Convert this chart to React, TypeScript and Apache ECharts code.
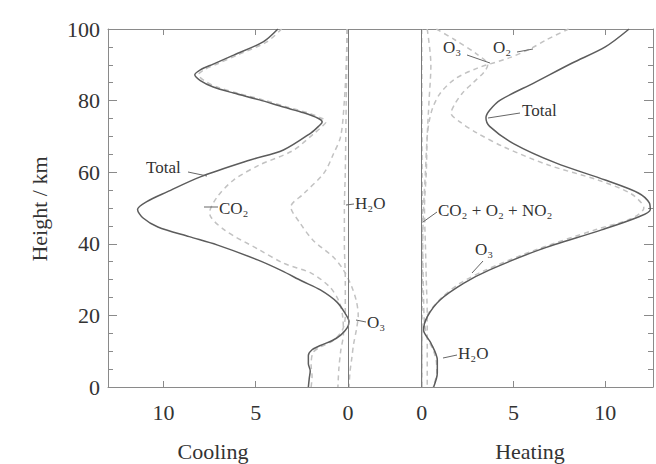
import React, { useEffect, useRef } from "react";
import * as echarts from "echarts";

// ---- Data: [rate (K/day), height (km)] ----
const coolTotal: number[][] = [
  [3.8, 100], [4.6, 96.4], [6.2, 92.7], [7.3, 90.2], [8.0, 88.6], [8.3, 87.2], [8.0, 85.6],
  [7.3, 83.8], [6.2, 82.1], [4.8, 80.2], [3.5, 78.2], [2.4, 76.6], [1.6, 75], [1.4, 74],
  [1.6, 72.8], [2.0, 71], [3.5, 66.2], [5.3, 63.4], [8.0, 58.7], [9.8, 54.5], [10.9, 51.8],
  [11.4, 49.6], [11.1, 47.2], [10.3, 44.7], [8.6, 42], [7.1, 39.7], [4.9, 35.5], [3.6, 32.5],
  [2.5, 29.6], [1.5, 27.1], [0.6, 23.7], [0.15, 20.5], [-0.05, 18.3], [0.05, 16.5], [0.4, 14.5],
  [0.85, 13], [1.5, 11.6], [1.95, 10.4], [2.15, 8.8], [2.15, 6.5], [2.05, 4.5], [2.1, 2.5],
  [2.15, 0],
];
const coolCO2: number[][] = [
  [3.6, 100], [4.4, 96.4], [6.0, 92.7], [7.1, 90.2], [7.8, 88.6], [8.1, 87.2], [7.8, 85.6],
  [7.1, 83.8], [6.0, 82.1], [4.6, 80.2], [3.3, 78.2], [2.2, 76.6], [1.4, 75], [1.2, 74],
  [1.4, 72.8], [1.8, 71], [3.0, 66], [4.8, 62], [6.2, 57.8], [7.1, 53], [7.5, 48.6], [6.7, 43.9],
  [4.8, 38.3], [3.5, 34.6], [2.0, 31.8], [1.0, 28], [0.5, 24], [0.3, 20], [0.25, 15], [0.4, 10],
  [0.5, 5], [0.55, 0],
];
const coolO3: number[][] = [
  [0.05, 100], [0.1, 90], [0.2, 80], [0.4, 70], [0.8, 65], [1.3, 59.8], [2.4, 54], [3.1, 50.3],
  [2.6, 45.8], [1.9, 41], [0.8, 36.3], [0.25, 32.7], [-0.2, 28], [-0.45, 24], [-0.55, 20],
  [-0.45, 16], [-0.3, 12], [-0.2, 8], [-0.1, 4], [-0.05, 0],
];
const coolH2O: number[][] = [
  [0.05, 100], [0.1, 80], [0.15, 60], [0.2, 50], [0.2, 40], [0.15, 30], [0.15, 20], [0.3, 16],
  [0.8, 13], [1.5, 11.2], [1.9, 9.6], [2.0, 6], [1.95, 3], [2.0, 0],
];
const heatTotal: number[][] = [
  [11.3, 100], [10.0, 95], [8.2, 90.5], [6.1, 84.9], [4.3, 80.2], [3.7, 77.3], [3.5, 75.2],
  [3.7, 72.8], [5.0, 68], [7.3, 62.6], [10.0, 57.8], [11.8, 54.2], [12.4, 51.4], [12.45, 49.5],
  [11.8, 47.5], [9.8, 43.9], [6.4, 38.3], [3.7, 32.7], [2.3, 29], [1.0, 24.3], [0.3, 19.6],
  [0.1, 15.9], [0.5, 12.3], [0.85, 7.5], [0.85, 3.9], [0.65, 0],
];
const heatO3: number[][] = [
  [0.8, 100], [1.8, 97], [3.0, 93], [3.6, 90], [3.4, 88], [2.8, 85], [2.2, 82], [1.8, 79],
  [1.6, 76.5], [2.1, 74], [3.0, 71], [4.5, 67], [6.9, 62], [9.6, 57.8], [11.4, 54], [12.1, 50],
  [11.4, 47], [9.5, 44], [6.2, 38.3], [3.5, 32.7], [2.1, 29], [1.1, 25], [0.3, 20], [0.05, 15],
  [0.02, 10], [0.02, 0],
];
const heatO2: number[][] = [
  [8.0, 100], [6.8, 97], [6.0, 94.7], [4.8, 92], [3.0, 89], [1.8, 86], [1.0, 82], [0.6, 78],
  [0.4, 74], [0.3, 70], [0.2, 60], [0.1, 50], [0.05, 40], [0.02, 20], [0.0, 0],
];
const heatMinor: number[][] = [
  [0.3, 100], [0.5, 90], [0.4, 80], [0.3, 70], [0.25, 60], [0.15, 50], [0.2, 40], [0.25, 30],
  [0.3, 20], [0.3, 10], [0.3, 0],
];
const heatH2O: number[][] = [
  [0.0, 100], [0.02, 60], [0.05, 40], [0.1, 25], [0.15, 18], [0.3, 14], [0.65, 10], [0.8, 7],
  [0.82, 4], [0.62, 0],
];

const xTickValues = [0, 5, 10];

const FONT = "'Liberation Serif', 'DejaVu Serif', serif";
const AXIS_COLOR = "#8a8a8a";
const TEXT_COLOR = "#333333";
const SOLID = "#5c5c5c";
const DASH = "#c2c2c2";

export default function App() {
  const ref = useRef<HTMLDivElement>(null);
  useEffect(() => {
    if (!ref.current) return;
    const chart = echarts.init(ref.current, null, { renderer: "svg" });

    const xBase = (gridIndex: number, min: number, max: number, inverse: boolean, position: string, labels: boolean) => ({
      type: "value",
      gridIndex,
      min,
      max,
      inverse,
      position,
      axisLine: { show: true, onZero: false, lineStyle: { color: AXIS_COLOR, width: 1 } },
      axisTick: { show: true, inside: true, length: 6, customValues: xTickValues, lineStyle: { color: AXIS_COLOR } },
      axisLabel: {
        show: labels,
        customValues: xTickValues,
        margin: 14,
        fontFamily: FONT,
        fontSize: 22,
        color: TEXT_COLOR,
      },
      splitLine: { show: false },
    });

    const yBase = (gridIndex: number, position: string, labels: boolean) => ({
      type: "value",
      gridIndex,
      min: 0,
      max: 100,
      interval: 20,
      position,
      axisLine: { show: true, onZero: false, lineStyle: { color: AXIS_COLOR, width: 1 } },
      axisTick: { show: true, inside: true, length: 9, lineStyle: { color: AXIS_COLOR } },
      minorTick: { show: true, splitNumber: 4, length: 5, lineStyle: { color: AXIS_COLOR } },
      axisLabel: { show: labels, margin: 8, fontFamily: FONT, fontSize: 22, color: TEXT_COLOR },
      splitLine: { show: false },
      minorSplitLine: { show: false },
    });

    const zeroLine = {
      silent: true,
      symbol: ["none", "none"],
      label: { show: false },
      lineStyle: { color: "#7a7a7a", type: "solid", width: 1 },
      data: [{ xAxis: 0 }],
    };

    const line = (data: number[][], xi: number, yi: number, solid: boolean, extra: any = {}) => ({
      type: "line",
      xAxisIndex: xi,
      yAxisIndex: yi,
      data,
      smooth: 0.3,
      showSymbol: false,
      symbol: "none",
      z: solid ? 3 : 2,
      lineStyle: solid
        ? { color: SOLID, width: 1.5 }
        : { color: DASH, width: 1.5, type: [5, 4] },
      ...extra,
    });

    const t = (x: number, y: number, text: string, size = 17, align = "left") => ({
      type: "text",
      x,
      y,
      style: {
        text,
        fill: TEXT_COLOR,
        font: `${size}px ${FONT}`,
        textAlign: align,
        textVerticalAlign: "middle",
      },
      z: 10,
    });
    const l = (x1: number, y1: number, x2: number, y2: number) => ({
      type: "line",
      shape: { x1, y1, x2, y2 },
      style: { stroke: "#666", lineWidth: 1 },
      z: 10,
    });

    chart.setOption({
      animation: false,
      backgroundColor: "#ffffff",
      grid: [
        { left: 108, top: 29, width: 277, height: 358 },
        { left: 385, top: 29, width: 268, height: 358 },
      ],
      xAxis: [
        xBase(0, -2, 13, true, "bottom", true),
        xBase(1, -2, 12.6, false, "bottom", true),
        xBase(0, -2, 13, true, "top", false),
        xBase(1, -2, 12.6, false, "top", false),
      ],
      yAxis: [yBase(0, "left", true), yBase(1, "right", false)],
      series: [
        line(coolCO2, 0, 0, false, { markLine: zeroLine }),
        line(coolO3, 0, 0, false),
        line(coolH2O, 0, 0, false),
        line(coolTotal, 0, 0, true),
        line(heatO3, 1, 1, false, { markLine: zeroLine }),
        line(heatO2, 1, 1, false),
        line(heatMinor, 1, 1, false),
        line(heatH2O, 1, 1, false),
        line(heatTotal, 1, 1, true),
      ],
      graphic: [
        {
          type: "text",
          x: 39,
          y: 209,
          rotation: Math.PI / 2,
          style: {
            text: "Height / km",
            fill: TEXT_COLOR,
            font: `22px ${FONT}`,
            textAlign: "center",
            textVerticalAlign: "middle",
          },
        },
        t(213, 451, "Cooling", 22, "center"),
        t(530, 451, "Heating", 22, "center"),
        // cooling annotations
        t(146, 167, "Total"),
        l(188, 172, 207, 176),
        t(219, 208, "CO₂"),
        l(204, 207, 218, 207),
        t(355, 203, "H₂O"),
        l(346, 205, 354, 204),
        t(367, 322, "O₃"),
        l(356, 320, 366, 322),
        // heating annotations
        t(443, 47, "O₃"),
        l(467, 55, 490, 63),
        t(493, 47, "O₂"),
        l(517, 52, 533, 49),
        t(522, 110, "Total"),
        l(520, 113, 488, 118),
        t(438, 210, "CO₂ + O₂ + NO₂"),
        l(437, 212, 423, 222),
        t(475, 249, "O₃"),
        l(483, 261, 472, 273),
        t(458, 353, "H₂O"),
        l(457, 355, 443, 358),
      ],
    });
    return () => chart.dispose();
  }, []);
  return (
    <div
      ref={ref}
      style={{ position: "fixed", left: 0, top: 0, width: 656, height: 464 }}
    />
  );
}
